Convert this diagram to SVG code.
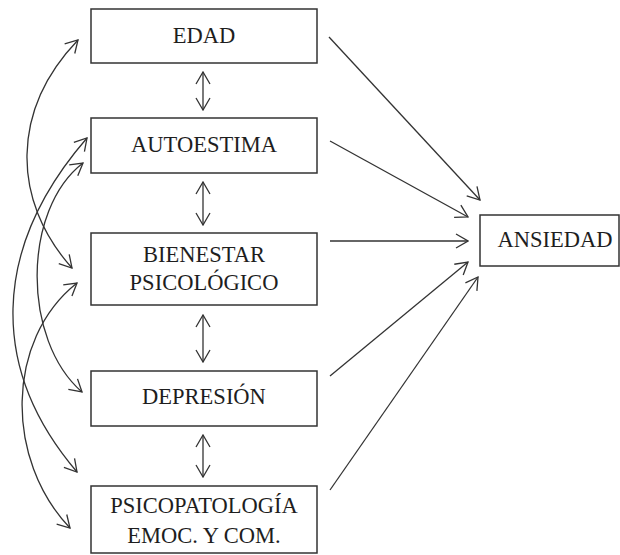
<svg xmlns="http://www.w3.org/2000/svg" width="620" height="555" viewBox="0 0 620 555">
  <style>
    .box { fill: #ffffff; stroke: #333333; stroke-width: 1.5; }
    .lbl { font-family: "Liberation Serif", "Times New Roman", serif; font-size: 22.5px; fill: #1e1e1e; text-anchor: middle; }
    .edge { fill: none; stroke: #333333; stroke-width: 1.3; }
    .one { marker-end: url(#head); }
    .two { marker-start: url(#head); marker-end: url(#head); }
  </style>
  <defs>
    <marker id="head" viewBox="0 0 14 16" refX="13" refY="8" markerWidth="14" markerHeight="16" markerUnits="userSpaceOnUse" orient="auto-start-reverse">
      <path d="M1,1 L13,8 L1,15" fill="none" stroke="#333333" stroke-width="1.3"/>
    </marker>
  </defs>

  <rect width="620" height="555" fill="#ffffff"/>

  <g id="connectors">
    <!-- vertical links between neighbouring predictors -->
    <line class="edge two" x1="203" y1="72" x2="203" y2="110"/>
    <line class="edge two" x1="203" y1="182" x2="203" y2="225"/>
    <line class="edge two" x1="203" y1="315" x2="203" y2="362"/>
    <line class="edge two" x1="203" y1="435" x2="203" y2="477"/>

    <!-- curved covariances on the left -->
    <path class="edge two" d="M78,40 C11,110 11,200 72,268"/>
    <path class="edge two" d="M87,138 C-10,250 -10,370 77,472"/>
    <path class="edge two" d="M83,163 C22,210 22,340 82,392"/>
    <path class="edge two" d="M77,283 C5,340 5,460 70,528"/>

    <!-- paths to the outcome -->
    <line class="edge one" x1="329" y1="37" x2="480" y2="200"/>
    <line class="edge one" x1="330" y1="141" x2="468" y2="217"/>
    <line class="edge one" x1="330" y1="241" x2="468" y2="241"/>
    <line class="edge one" x1="330" y1="376" x2="468" y2="262"/>
    <line class="edge one" x1="330" y1="490" x2="478" y2="277"/>
  </g>

  <g id="edad">
    <rect class="box" x="91" y="9" width="226" height="54"/>
    <text class="lbl" x="204" y="43">EDAD</text>
  </g>
  <g id="autoestima">
    <rect class="box" x="91" y="118" width="226" height="55"/>
    <text class="lbl" x="204" y="152">AUTOESTIMA</text>
  </g>
  <g id="bienestar">
    <rect class="box" x="91" y="233" width="226" height="72"/>
    <text class="lbl" x="204" y="262">BIENESTAR</text>
    <text class="lbl" x="204" y="290">PSICOLÓGICO</text>
  </g>
  <g id="depresion">
    <rect class="box" x="91" y="371" width="226" height="55"/>
    <text class="lbl" x="204" y="404">DEPRESIÓN</text>
  </g>
  <g id="psicopatologia">
    <rect class="box" x="91" y="486" width="226" height="67"/>
    <text class="lbl" x="204" y="513">PSICOPATOLOGÍA</text>
    <text class="lbl" x="204" y="543">EMOC. Y COM.</text>
  </g>
  <g id="ansiedad">
    <rect class="box" x="480" y="215" width="139" height="51"/>
    <text class="lbl" x="555" y="247">ANSIEDAD</text>
  </g>
</svg>
